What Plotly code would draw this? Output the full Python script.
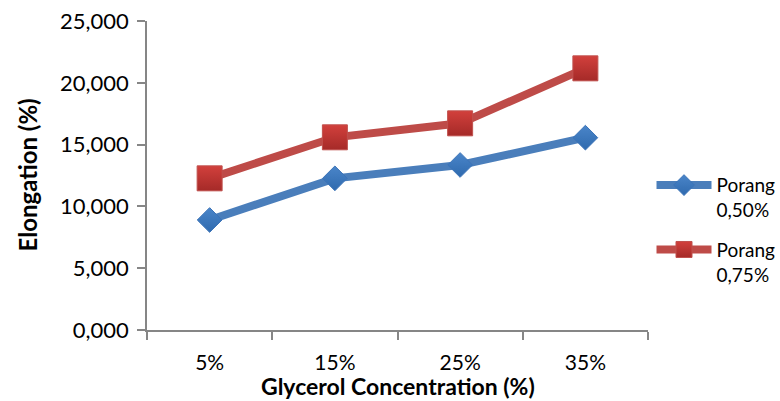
import plotly.graph_objects as go

categories = ["5%", "15%", "25%", "35%"]
porang_050 = [8.9, 12.27, 13.35, 15.56]
porang_075 = [12.27, 15.59, 16.72, 21.17]
series_names = ["Porang<br>0,50%", "Porang<br>0,75%"]
x_title = "<b>Glycerol Concentration (%)</b>"
y_title = "<b>Elongation (%)</b>"

FONT = "Lato"

fig = go.Figure()
fig.add_trace(go.Scatter(
    x=categories, y=porang_050, name=series_names[0], mode="lines+markers",
    legendgroup="g1",
    line=dict(color="#4A7EBB", width=8),
    marker=dict(symbol="diamond", size=19, color="#4A85C9",
                gradient=dict(type="vertical", color="#2F6AAE"),
                line=dict(color="#3B73B8", width=1)),
))
fig.add_trace(go.Scatter(
    x=categories, y=porang_075, name=series_names[1], mode="lines+markers",
    legendgroup="g2",
    line=dict(color="#BE4B48", width=8),
    marker=dict(symbol="square", size=25, color="#D2403C",
                gradient=dict(type="vertical", color="#A52A28"),
                line=dict(color="#C0504D", width=1)),
))

fig.update_layout(
    width=780, height=401,
    margin=dict(l=147, r=132, t=21, b=71, autoexpand=False),
    paper_bgcolor="white", plot_bgcolor="white",
    separators=",.",
    font=dict(family=FONT, color="black", size=22),
    legend=dict(x=1.007, y=0.53, xanchor="left", yanchor="top",
                font=dict(size=19, family=FONT), itemwidth=55,
                valign="top", tracegroupgap=12, bgcolor="rgba(0,0,0,0)"),
    showlegend=True,
    annotations=[
        dict(text=x_title, xref="paper", yref="paper", x=0.501, y=-0.181,
             xanchor="center", yanchor="middle", showarrow=False,
             font=dict(size=23, family=FONT, color="black")),
        dict(text=y_title, xref="paper", yref="paper", x=-0.2395, y=0.50,
             xanchor="center", yanchor="middle", showarrow=False, textangle=-90,
             font=dict(size=24, family=FONT, color="black")),
    ],
)
fig.update_xaxes(
    type="category", range=[-0.5, 3.5], tickson="boundaries", automargin=False,
    showline=True, linecolor="#868686", linewidth=1.5,
    ticks="outside", ticklen=8, tickcolor="#868686", tickwidth=1.5,
    showgrid=False, zeroline=False,
    tickfont=dict(size=21, family=FONT), ticklabelstandoff=13,
)
fig.update_yaxes(
    range=[0, 25], dtick=5, tickformat=".3f", automargin=False,
    showline=True, linecolor="#868686", linewidth=1.5,
    ticks="outside", ticklen=8, tickcolor="#868686", tickwidth=1.5,
    showgrid=False, zeroline=False,
    tickfont=dict(size=22, family=FONT), ticklabelstandoff=4,
)

fig.write_html("out.html", config={"displayModeBar": False},
               post_script="document.body.style.margin='0';document.body.style.overflow='hidden';")
